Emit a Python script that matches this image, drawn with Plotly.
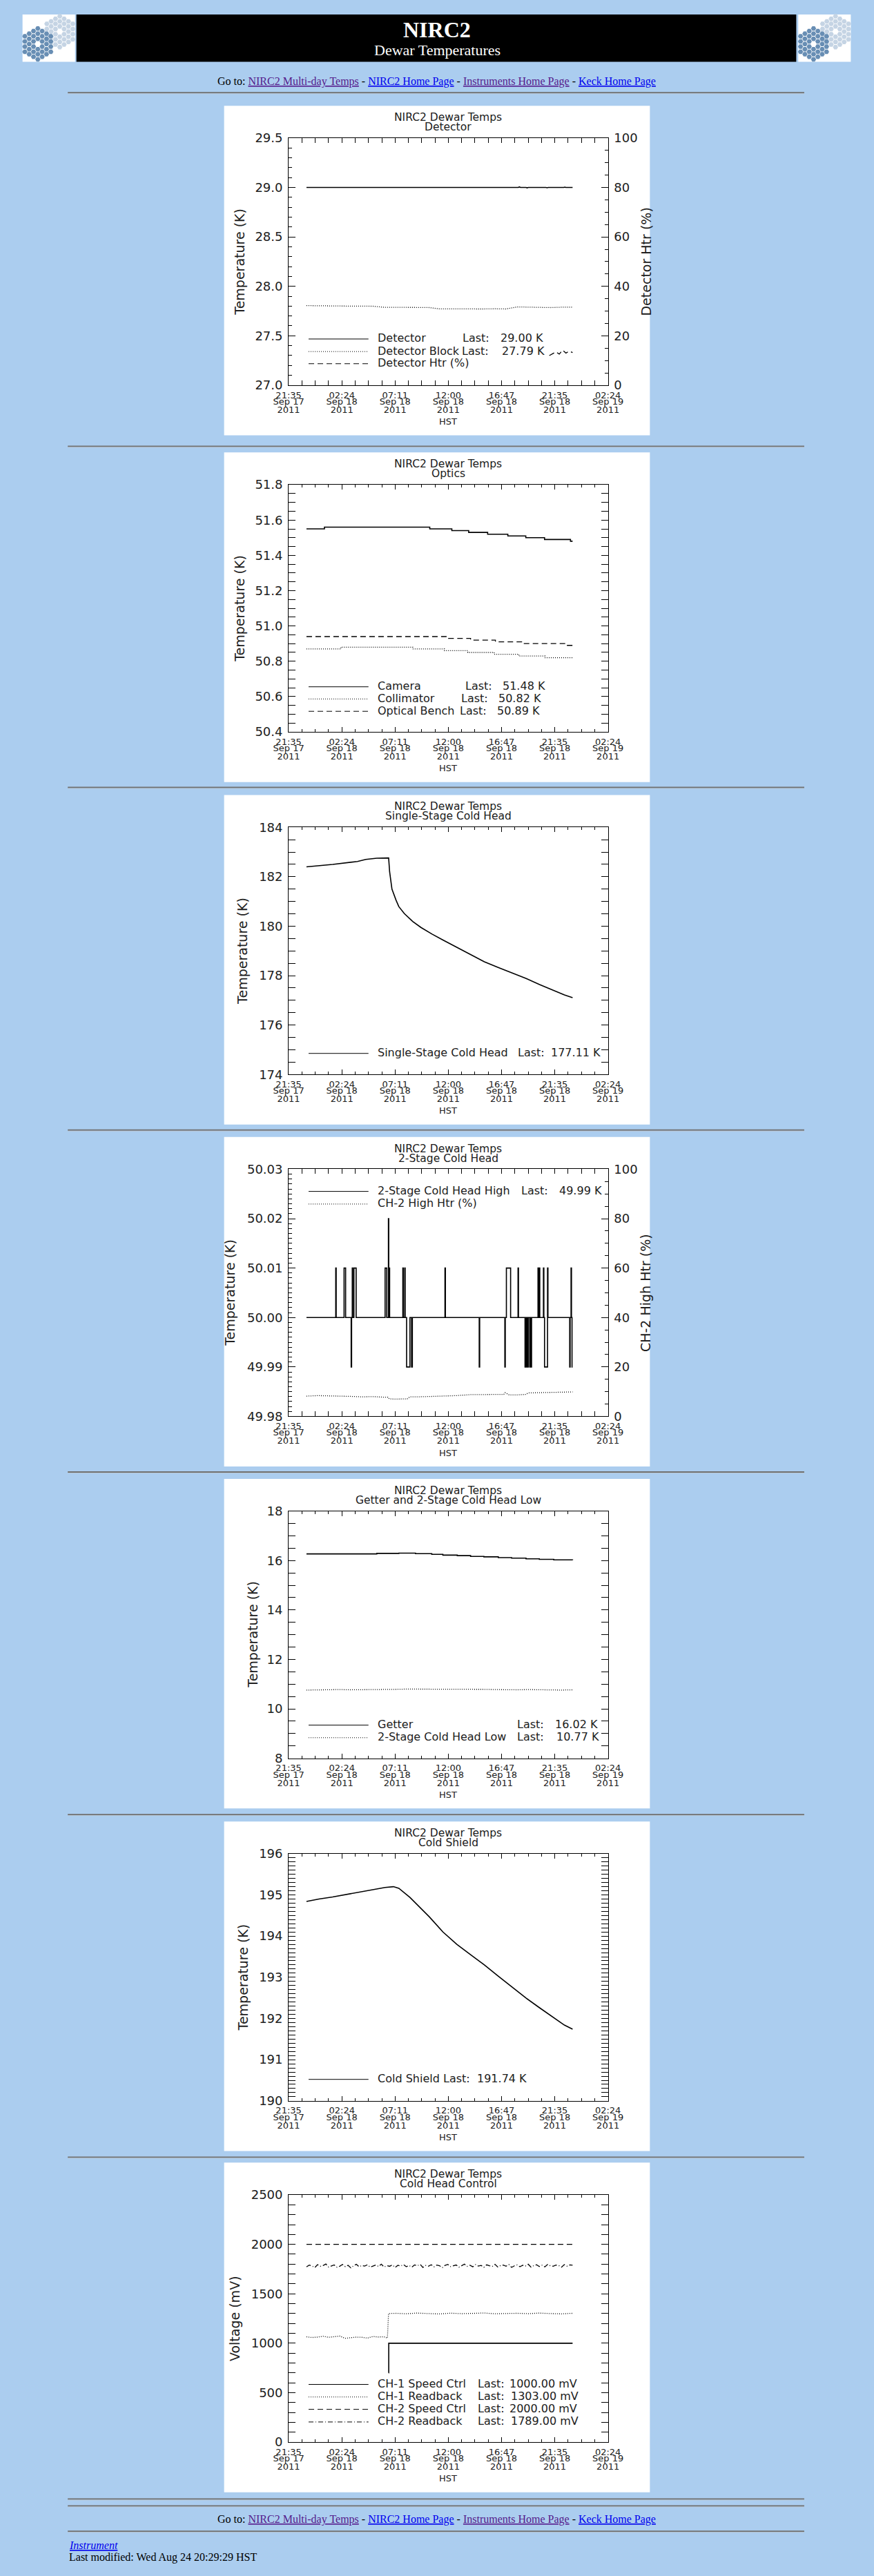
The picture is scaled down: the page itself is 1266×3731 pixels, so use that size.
import numpy as np
import pandas as pd
import plotly.graph_objects as go

W, H = 1266, 3731
BG = "#ABCDEF"
SANS = "DejaVu Sans"
SERIF = "Liberation Serif"
INK = "#202020"

# ---------------- shared time axis ----------------
AXIS_START = "2011-09-17 21:35:30"
AXIS_SPAN_H = 28.8
MAJOR_STEP_H = 4.8
MINOR_STEP_H = 1.2
DATA_START = "2011-09-17 23:12:00"
x_tick_time = ["21:35", "02:24", "07:11", "12:00", "16:47", "21:35", "02:24"]
x_tick_date = ["Sep 17", "Sep 18", "Sep 18", "Sep 18", "Sep 18", "Sep 18", "Sep 19"]
x_tick_year = ["2011", "2011", "2011", "2011", "2011", "2011", "2011"]

# ---------------- chart 1: Detector ----------------
det_hours = [0.0, 0.9, 1.0, 1.1, 4.8, 4.9, 5.0, 5.3, 5.4, 5.5, 6.6, 6.7, 6.8, 19.1, 19.2, 19.3,
             19.8, 19.9, 20.0, 20.4, 20.5, 20.6, 21.6, 21.7, 21.8, 23.2, 23.3, 23.4, 24.0]
det_temp = [29.0, 29.0, 29.004, 29.0, 29.0, 29.003, 29.0, 29.0, 29.003, 29.0, 29.0, 29.003, 29.0,
            29.0, 29.006, 29.0, 29.0, 28.996, 29.0, 29.0, 29.003, 29.0, 29.0, 28.997, 29.0,
            29.0, 29.003, 29.0, 29.0]
block_hours = [0, 1, 2, 3, 4, 5, 6, 7, 8, 9, 10, 11, 12, 13, 14, 15, 16, 17, 18, 19, 20, 21, 22, 23, 24]
block_temp = [27.805, 27.803, 27.798, 27.801, 27.800, 27.802, 27.799, 27.788, 27.787, 27.787,
              27.786, 27.786, 27.772, 27.771, 27.771, 27.772, 27.771, 27.773, 27.771, 27.792,
              27.790, 27.788, 27.785, 27.789, 27.790]
det_htr_hours = [21.9, 22.2, 22.5, 22.8, 23.1, 23.4, 23.7, 24.0]
det_htr_pct = [12.0, 12.8, 13.5, 12.6, 14.2, 13.0, 13.8, 13.2]
ch1_yticks = [27.0, 27.5, 28.0, 28.5, 29.0, 29.5]

# ---------------- chart 2: Optics ----------------
cam_hours = [0, 1.62, 11.12, 13.11, 14.63, 16.34, 18.16, 19.78, 21.47, 23.81, 24.0]
cam_temp = [51.55, 51.56, 51.55, 51.54, 51.53, 51.52, 51.51, 51.50, 51.49, 51.48, 51.48]
col_hours = [0, 3.11, 9.58, 12.44, 14.55, 16.92, 19.15, 21.52, 24.0]
col_temp = [50.87, 50.88, 50.87, 50.86, 50.85, 50.84, 50.83, 50.82, 50.82]
ob_hours = [0, 12.81, 14.80, 17.04, 19.53, 23.38, 24.0]
ob_temp = [50.94, 50.93, 50.92, 50.91, 50.90, 50.89, 50.89]
ch2_yticks = [50.4, 50.6, 50.8, 51.0, 51.2, 51.4, 51.6, 51.8]

# ---------------- chart 3: Single-Stage Cold Head ----------------
sch_hours = [0, 2.36, 4.60, 5.35, 6.34, 7.34, 7.41, 7.50, 7.71, 8.08, 8.33, 8.83, 9.58, 10.32,
             11.32, 12.31, 13.56, 14.80, 16.04, 17.29, 18.28, 19.78, 21.02, 22.26, 23.26, 24.0]
sch_temp = [182.40, 182.50, 182.62, 182.70, 182.75, 182.76, 182.76, 182.20, 181.50, 181.05,
            180.79, 180.51, 180.19, 179.95, 179.68, 179.44, 179.14, 178.84, 178.56, 178.33,
            178.15, 177.89, 177.64, 177.41, 177.22, 177.11]
ch3_yticks = [174, 176, 178, 180, 182, 184]

# ---------------- chart 4: 2-Stage Cold Head ----------------
ch2_base_temp = 50.00
ch2_event_start = [2.64, 3.39, 4.03, 4.13, 4.28, 7.09, 7.39, 7.44, 8.69, 8.86, 9.03, 9.48,
                   12.49, 15.58, 17.89, 18.03, 19.08, 19.71, 19.80, 19.96, 20.13, 20.25,
                   20.88, 21.00, 21.37, 21.47, 21.74, 23.74, 23.86, 23.95]
ch2_event_end = [2.68, 3.53, 4.07, 4.17, 4.48, 7.24, 7.42, 7.50, 8.73, 8.90, 9.33, 9.55,
                 12.53, 15.62, 17.93, 18.41, 19.12, 19.75, 19.90, 20.00, 20.17, 20.30,
                 20.92, 21.04, 21.41, 21.74, 21.78, 23.78, 23.90, 24.00]
ch2_event_temp = [50.01, 50.01, 49.99, 50.01, 50.01, 50.01, 50.02, 50.01, 50.01, 50.01, 49.99,
                  49.99, 50.01, 49.99, 49.99, 50.01, 50.01, 49.99, 49.99, 49.99, 49.99, 49.99,
                  50.01, 50.01, 50.01, 49.99, 50.01, 49.99, 50.01, 49.99]
ch2_htr_hours = [0, 1, 2, 3, 4, 5, 6, 6.84, 7.34, 7.46, 8.0, 9.08, 9.33, 10, 11, 12.31, 13.5,
                 14.8, 16, 17.79, 17.91, 18.28, 19, 19.78, 20.02, 21, 22.26, 23, 24]
ch2_htr_pct = [8.2, 8.4, 8.3, 8.3, 8.1, 7.9, 8.0, 7.8, 7.8, 7.1, 7.0, 7.1, 7.9, 7.9, 8.0, 8.3,
               8.4, 8.8, 8.8, 8.9, 9.6, 8.7, 8.7, 8.9, 9.5, 9.6, 9.8, 9.9, 9.9]
ch4_yticks = [49.98, 49.99, 50.00, 50.01, 50.02, 50.03]

# ---------------- chart 5: Getter and 2-Stage Cold Head Low ----------------
get_hours = [0, 6.34, 8.33, 9.83, 11.3, 12.3, 13.6, 14.8, 16.0, 17.3, 18.5, 19.8, 21.0, 22.3, 24.0]
get_temp = [16.27, 16.29, 16.30, 16.28, 16.25, 16.22, 16.20, 16.17, 16.15, 16.12, 16.10, 16.07,
            16.05, 16.03, 16.02]
low_hours = [0, 1, 2, 3, 4, 5, 6, 7, 8, 9, 10, 11, 12, 13, 14, 15, 16, 17, 18, 19, 20, 21, 22, 23, 24]
low_temp = [10.76, 10.77, 10.77, 10.78, 10.77, 10.77, 10.77, 10.78, 10.79, 10.80, 10.80, 10.81,
            10.80, 10.81, 10.80, 10.80, 10.79, 10.78, 10.77, 10.77, 10.78, 10.77, 10.77, 10.76, 10.77]
ch5_yticks = [8, 10, 12, 14, 16, 18]

# ---------------- chart 6: Cold Shield ----------------
cs_hours = [0, 1.12, 2.36, 3.61, 4.85, 6.09, 7.09, 7.84, 8.33, 9.33, 10.32, 11.07, 12.31, 13.56,
            14.80, 16.04, 17.29, 18.53, 19.78, 21.02, 22.26, 23.26, 24.0]
cs_temp = [194.84, 194.90, 194.95, 195.01, 195.08, 195.14, 195.18, 195.20, 195.16, 194.94,
           194.67, 194.47, 194.10, 193.80, 193.55, 193.30, 193.03, 192.77, 192.50, 192.26,
           192.02, 191.84, 191.74]
ch6_yticks = [190, 191, 192, 193, 194, 195, 196]

# ---------------- chart 7: Cold Head Control ----------------
ch1_speed_hours = [7.40, 7.42, 24.0]
ch1_speed_mv = [700, 1000, 1000]
ch1_rb_hours = [0, 0.5, 1, 1.5, 2, 2.5, 3, 3.5, 4, 4.5, 5, 5.5, 6, 6.5, 7, 7.3, 7.4, 8, 9, 10,
                11, 12, 13, 14, 15, 16, 17, 18, 19, 20, 21, 22, 23, 24]
ch1_rb_mv = [1065, 1058, 1062, 1070, 1060, 1066, 1072, 1050, 1058, 1062, 1060, 1052, 1068, 1063,
             1065, 1052, 1300, 1303, 1298, 1305, 1300, 1296, 1304, 1299, 1302, 1306, 1298, 1301,
             1303, 1299, 1305, 1300, 1297, 1303]
ch2_speed_hours = [0, 24.0]
ch2_speed_mv = [2000, 2000]
ch2_rb_mv = [1772, 1790, 1781, 1765, 1795, 1778, 1786, 1801, 1770, 1783,
             1792, 1768, 1779, 1797, 1775, 1788, 1762, 1784, 1799, 1773,
             1787, 1780, 1794, 1769, 1782, 1791, 1776, 1800, 1771, 1785,
             1778, 1793, 1766, 1789, 1781, 1796, 1774, 1787, 1770, 1792,
             1783, 1798, 1767, 1786, 1779, 1794, 1772, 1790, 1784, 1764,
             1788, 1797, 1775, 1782, 1791, 1769, 1785, 1800, 1777, 1789,
             1773, 1795, 1780, 1787, 1768, 1793, 1784, 1776, 1798, 1771,
             1786, 1790, 1779, 1796, 1767, 1783, 1792, 1774, 1788, 1781,
             1799, 1770, 1785, 1794, 1776, 1789, 1772, 1797, 1783, 1778,
             1791, 1786, 1769, 1795, 1780, 1792, 1789]
ch7_yticks = [0, 500, 1000, 1500, 2000, 2500]
htr_yticks = [0, 20, 40, 60, 80, 100]

# ======================================================================
t_axis0 = pd.Timestamp(AXIS_START)
t_data0 = pd.Timestamp(DATA_START)


def tstr(ts):
    return ts.strftime("%Y-%m-%d %H:%M:%S")


def data_time(hours):
    return [tstr(t_data0 + pd.Timedelta(hours=float(h))) for h in hours]


x_range = [tstr(t_axis0), tstr(t_axis0 + pd.Timedelta(hours=AXIS_SPAN_H))]
x_tickvals = [tstr(t_axis0 + pd.Timedelta(hours=MAJOR_STEP_H * k)) for k in range(len(x_tick_time))]


def step_series(base, starts, ends, vals, t_end):
    hs, vs = [0.0], [base]
    for s, e, v in zip(starts, ends, vals):
        hs.append(s)
        vs.append(v)
        if e >= t_end:
            hs.append(t_end)
            vs.append(v)
        else:
            hs.append(e)
            vs.append(base)
    if hs[-1] < t_end:
        hs.append(t_end)
        vs.append(base)
    return hs, vs


ch2_hours, ch2_temp = step_series(ch2_base_temp, ch2_event_start, ch2_event_end, ch2_event_temp, 24.0)
ch2_rb_hours = list(np.linspace(0, 24, len(ch2_rb_mv)))

SOLID, DOT, DASH, DASHDOT = "solid", "1px,2px", "8px,5px", "7px,3px,1px,3px"

charts = [
    dict(top=143, sub="Detector", ytitle="Temperature (K)", ytx=336, yr=[27.0, 29.5],
         yt=ch1_yticks, fmt="{:.1f}", ymin=0.1,
         right=dict(title="Detector Htr (%)", minor=5),
         series=[(det_hours, det_temp, SOLID, "linear", "L"),
                 (block_hours, block_temp, DOT, "linear", "L"),
                 (det_htr_hours, det_htr_pct, DASH, "linear", "R")],
         legend=[("Detector", SOLID, 481.7, 669, f"{det_temp[-1]:.2f} K", 726),
                 ("Detector Block", DOT, 500.0, 668, f"{block_temp[-1]:.2f} K", 728),
                 ("Detector Htr (%)", DASH, 517.7, None, None, None)]),
    dict(top=648, sub="Optics", ytitle="Temperature (K)", ytx=336, yr=[50.4, 51.8],
         yt=ch2_yticks, fmt="{:.1f}", ymin=0.05, right=None,
         series=[(cam_hours, cam_temp, SOLID, "hv", "L"),
                 (col_hours, col_temp, DOT, "hv", "L"),
                 (ob_hours, ob_temp, DASH, "hv", "L")],
         legend=[("Camera", SOLID, 988.3, 673, f"{cam_temp[-1]:.2f} K", 729),
                 ("Collimator", DOT, 1006.0, 667, f"{col_temp[-1]:.2f} K", 723),
                 ("Optical Bench", DASH, 1024.0, 665, f"{ob_temp[-1]:.2f} K", 721)]),
    dict(top=1147, sub="Single-Stage Cold Head", ytitle="Temperature (K)", ytx=341, yr=[174, 184],
         yt=ch3_yticks, fmt="{:d}", ymin=0.5, right=None,
         series=[(sch_hours, sch_temp, SOLID, "linear", "L")],
         legend=[("Single-Stage Cold Head", SOLID, 1522.3, 752, f"{sch_temp[-1]:.2f} K", 802)]),
    dict(top=1645, sub="2-Stage Cold Head", ytitle="Temperature (K)", ytx=322, yr=[49.98, 50.03],
         yt=ch4_yticks, fmt="{:.2f}", ymin=0.001,
         right=dict(title="CH-2 High Htr (%)", minor=5),
         series=[(ch2_hours, ch2_temp, SOLID, "hv", "L"),
                 (ch2_htr_hours, ch2_htr_pct, DOT, "linear", "R")],
         legend=[("2-Stage Cold Head High", SOLID, 1723.3, 758, f"{ch2_temp[-1]:.2f} K", 815),
                 ("CH-2 High Htr (%)", DOT, 1741.7, None, None, None)]),
    dict(top=2143, sub="Getter and 2-Stage Cold Head Low", ytitle="Temperature (K)", ytx=356,
         yr=[8, 18], yt=ch5_yticks, fmt="{:d}", ymin=0.5, right=None,
         series=[(get_hours, get_temp, SOLID, "hv", "L"),
                 (low_hours, low_temp, DOT, "linear", "L")],
         legend=[("Getter", SOLID, 2500.7, 751, f"{get_temp[-1]:.2f} K", 808),
                 ("2-Stage Cold Head Low", DOT, 2519.0, 751, f"{low_temp[-1]:.2f} K", 810)]),
    dict(top=2642, sub="Cold Shield", ytitle="Temperature (K)", ytx=341, yr=[190, 196],
         yt=ch6_yticks, fmt="{:d}", ymin=0.1, right=None,
         series=[(cs_hours, cs_temp, SOLID, "linear", "L")],
         legend=[("Cold Shield", SOLID, 3016.7, 640, f"{cs_temp[-1]:.2f} K", 691)]),
    dict(top=3139, sub="Cold Head Control", ytitle="Voltage (mV)", ytx=329, yr=[0, 2500],
         yt=ch7_yticks, fmt="{:d}", ymin=100, right=None,
         series=[(ch1_speed_hours, ch1_speed_mv, SOLID, "hv", "L"),
                 (ch1_rb_hours, ch1_rb_mv, DOT, "linear", "L"),
                 (ch2_speed_hours, ch2_speed_mv, DASH, "linear", "L"),
                 (ch2_rb_hours, ch2_rb_mv, DASHDOT, "linear", "L")],
         legend=[("CH-1 Speed Ctrl", SOLID, 3461.0, 692.6, f"{ch1_speed_mv[-1]:.2f} mV", 739.5),
                 ("CH-1 Readback", DOT, 3479.3, 692.6, f"{ch1_rb_mv[-1]:.2f} mV", 741.5),
                 ("CH-2 Speed Ctrl", DASH, 3497.3, 692.6, f"{ch2_speed_mv[-1]:.2f} mV", 739.5),
                 ("CH-2 Readback", DASHDOT, 3515.7, 692.6, f"{ch2_rb_mv[-1]:.2f} mV", 741.5)]),
]

# ---------------- page geometry (pixels) ----------------
PANEL_X0, PANEL_X1 = 313, 953
PLOT_X0, PLOT_X1 = 410, 890
PLOT_TOP, PLOT_BOT = 47, 407
HR_Y = [124, 639, 1136, 1635, 2133, 2632, 3131, 3629, 3639, 3676]
HR_X0, HR_X1 = 78, 1185


def fx(x):
    return x / W


def fy(y):
    return 1 - y / H


def ann(text, x, y, size, color=INK, family=SANS, xanchor="center", yanchor="middle", angle=0):
    return dict(text=text, x=fx(x), y=fy(y), xref="paper", yref="paper", showarrow=False,
                font=dict(size=size, color=color, family=family), xanchor=xanchor,
                yanchor=yanchor, textangle=angle)


def aname(kind, n):
    return kind if n == 1 else f"{kind}{n}"


def lkey(kind, n):
    return f"{kind}axis" if n == 1 else f"{kind}axis{n}"


fig = go.Figure()
layout = {}
shapes = []
annotations = []

TICKFONT_X = dict(family=SANS, size=13, color=INK)
TICKFONT_Y = dict(family=SANS, size=18, color=INK)

n_charts = len(charts)
right_id = n_charts + 1
ovl_id = n_charts + 3
for i, c in enumerate(charts, start=1):
    T = c["top"]
    xd = [fx(PLOT_X0), fx(PLOT_X1)]
    yd = [fy(T + PLOT_BOT), fy(T + PLOT_TOP)]
    shapes.append(dict(type="rect", xref="paper", yref="paper", x0=fx(PANEL_X0), x1=fx(PANEL_X1),
                       y0=fy(T + 480), y1=fy(T), fillcolor="white", line=dict(width=0), layer="below"))
    layout[lkey("x", i)] = dict(
        type="date", domain=xd, anchor=aname("y", i), range=x_range,
        tickmode="array", tickvals=x_tickvals, ticktext=x_tick_time,
        ticks="inside", ticklen=7, tickwidth=1, tickcolor="black",
        showline=True, linecolor="black", linewidth=1, mirror="allticks",
        showgrid=False, zeroline=False, tickfont=TICKFONT_X, ticklabelstandoff=2,
        minor=dict(ticks="inside", ticklen=4, tickcolor="black", tickwidth=1,
                   tick0=x_range[0], dtick=MINOR_STEP_H * 3600 * 1000, showgrid=False),
        fixedrange=True)
    for k, (txt, so) in enumerate([(x_tick_date, 14), (x_tick_year, 26)]):
        oid = ovl_id
        ovl_id += 1
        layout[lkey("x", oid)] = dict(
            type="date", overlaying=aname("x", i), anchor=aname("y", i), side="bottom",
            range=x_range, tickmode="array", tickvals=x_tickvals, ticktext=txt,
            ticks="", showline=False, showgrid=False, zeroline=False,
            tickfont=TICKFONT_X, ticklabelstandoff=so, fixedrange=True)
        fig.add_trace(go.Scatter(x=[], y=[], xaxis=aname("x", oid), yaxis=aname("y", i),
                                 showlegend=False, hoverinfo="skip"))
    has_right = c["right"] is not None
    layout[lkey("y", i)] = dict(
        domain=yd, anchor=aname("x", i), range=c["yr"],
        tickmode="array", tickvals=c["yt"], ticktext=[c["fmt"].format(v) for v in c["yt"]],
        ticks="inside", ticklen=10, tickwidth=1, tickcolor="black",
        showline=True, linecolor="black", linewidth=1,
        mirror=False if has_right else "allticks",
        showgrid=False, zeroline=False, tickfont=TICKFONT_Y, ticklabelstandoff=4,
        minor=dict(ticks="inside", ticklen=5, tickcolor="black", tickwidth=1,
                   tick0=c["yr"][0], dtick=c["ymin"], showgrid=False),
        fixedrange=True)
    ry = None
    if has_right:
        ry = right_id
        right_id += 1
        layout[lkey("y", ry)] = dict(
            overlaying=aname("y", i), anchor=aname("x", i), side="right", range=[0, 100],
            tickmode="array", tickvals=htr_yticks, ticktext=[str(v) for v in htr_yticks],
            ticks="inside", ticklen=10, tickwidth=1, tickcolor="black",
            showline=True, linecolor="black", linewidth=1,
            showgrid=False, zeroline=False, tickfont=TICKFONT_Y, ticklabelstandoff=4,
            minor=dict(ticks="inside", ticklen=5, tickcolor="black", tickwidth=1,
                       tick0=0, dtick=c["right"]["minor"], showgrid=False),
            fixedrange=True)
        annotations.append(ann(c["right"]["title"], 947, T + 227, 19, angle=-90))
    for hours, vals, dash, shape, side in c["series"]:
        yax = aname("y", i) if side == "L" else aname("y", ry)
        lw = 1.6 if dash == SOLID else 1.3
        fig.add_trace(go.Scatter(x=data_time(hours), y=vals, mode="lines",
                                 line=dict(color="black", width=lw, dash=dash, shape=shape),
                                 xaxis=aname("x", i), yaxis=yax, showlegend=False, hoverinfo="skip"))
    annotations.append(ann("NIRC2 Dewar Temps", 650, T + 17, 15.5))
    annotations.append(ann(c["sub"], 650, T + 31, 15.5))
    annotations.append(ann(c["ytitle"], c["ytx"], T + 227, 19, angle=-90))
    annotations.append(ann("HST", 650, T + 460, 13))
    for label, dash, ly, lastx, valtxt, valx in c["legend"]:
        shapes.append(dict(type="line", xref="paper", yref="paper", x0=fx(440), x1=fx(530),
                           y0=fy(ly + 1), y1=fy(ly + 1), line=dict(color="black", width=1, dash=dash)))
        annotations.append(ann(label, 542, ly, 16, xanchor="left"))
        if lastx is not None:
            annotations.append(ann("Last:", lastx, ly, 16, xanchor="left"))
            annotations.append(ann(valtxt, valx, ly, 16, xanchor="left"))

# ---------------- header ----------------
shapes.append(dict(type="rect", xref="paper", yref="paper", x0=fx(91), x1=fx(1173), y0=fy(79), y1=fy(10),
                   fillcolor="black", line=dict(width=0), layer="below"))
for lx in (10, 1176):
    shapes.append(dict(type="rect", xref="paper", yref="paper", x0=fx(lx), x1=fx(lx + 79), y0=fy(79),
                       y1=fy(10), fillcolor="white", line=dict(width=0), layer="below"))

hex_cells = [(q, r) for q in range(-3, 4) for r in range(-3, 4)
             if max(abs(q), abs(r), abs(q + r)) <= 3 and (q, r) != (0, 0)]
logo_clusters = [((66, 35), "#C5D4E4"), ((33, 53), "#688EB4")]
LOGO_AX = 40
for offset in (0, 1166):
    for (cx, cy), col in logo_clusters:
        hx = [cx + offset + 6.5 * q for q, r in hex_cells]
        hy = [cy + 7.5 * (r + q / 2) for q, r in hex_cells]
        fig.add_trace(go.Scatter(x=hx, y=hy, mode="markers", xaxis=aname("x", LOGO_AX),
                                 yaxis=aname("y", LOGO_AX), showlegend=False, hoverinfo="skip",
                                 marker=dict(symbol="hexagon2", size=7.5, color=col, line=dict(width=0))))
layout[lkey("x", LOGO_AX)] = dict(domain=[0, 1], range=[0, W], anchor=aname("y", LOGO_AX), visible=False,
                                  fixedrange=True)
layout[lkey("y", LOGO_AX)] = dict(domain=[fy(90), 1], range=[90, 0], anchor=aname("x", LOGO_AX),
                                  visible=False, fixedrange=True)

annotations.append(ann("<b>NIRC2</b>", 633, 32, 32, color="white", family=SERIF))
annotations.append(ann("Dewar Temperatures", 633, 62, 22, color="white", family=SERIF))

VISITED = "color:#551A8B;text-decoration:underline"
LINK = "color:#0000EE;text-decoration:underline"
goto = (f"Go to: <span style='{VISITED}'>NIRC2 Multi-day Temps</span> - "
        f"<span style='{LINK}'>NIRC2 Home Page</span> - "
        f"<span style='{VISITED}'>Instruments Home Page</span> - "
        f"<span style='{LINK}'>Keck Home Page</span>")
annotations.append(ann(goto, 632, 108, 16, color="black", family=SERIF))
annotations.append(ann(goto, 632, 3659, 16, color="black", family=SERIF))
annotations.append(ann(f"<i><span style='{LINK}'>Instrument</span></i>", 78, 3696, 16,
                       color="#0000EE", family=SERIF, xanchor="left"))
annotations.append(ann("Last modified: Wed Aug 24 20:29:29 HST", 78, 3714, 16, color="black",
                       family=SERIF, xanchor="left"))

for y in HR_Y:
    shapes.append(dict(type="line", xref="paper", yref="paper", x0=fx(HR_X0), x1=fx(HR_X1),
                       y0=fy(y), y1=fy(y), line=dict(color="#707070", width=2)))
    shapes.append(dict(type="line", xref="paper", yref="paper", x0=fx(HR_X0), x1=fx(HR_X1),
                       y0=fy(y + 1.5), y1=fy(y + 1.5), line=dict(color="#B8C8D8", width=1)))

fig.update_layout(width=W, height=H, margin=dict(l=0, r=0, t=0, b=0, pad=0), autosize=False,
                  paper_bgcolor=BG, plot_bgcolor="rgba(0,0,0,0)", showlegend=False,
                  shapes=shapes, annotations=annotations, hovermode=False, **layout)

fig.write_html("out.html", include_plotlyjs=True, full_html=True,
               config={"displayModeBar": False, "staticPlot": True},
               post_script=f"document.body.style.margin='0';document.body.style.padding='0';"
                           f"document.body.style.background='{BG}';")
